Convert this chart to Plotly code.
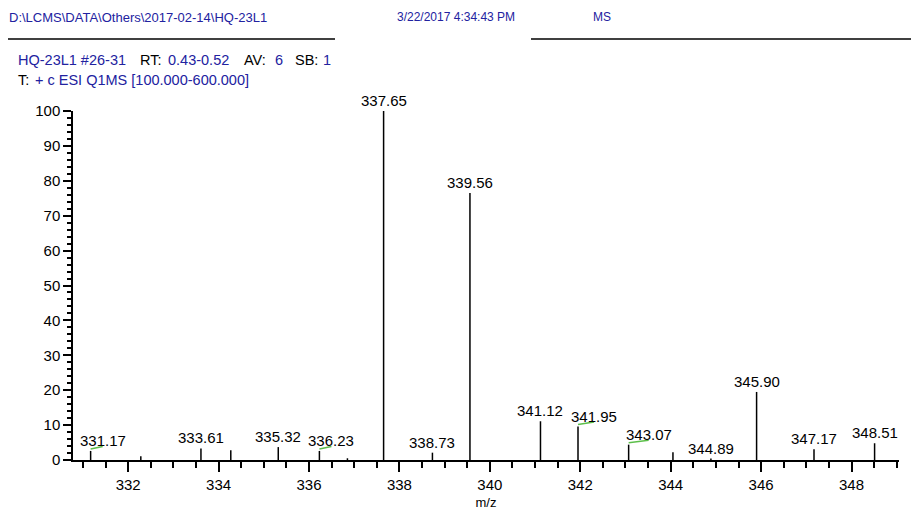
import plotly.graph_objects as go

# ---- data ----
mz = [331.17, 332.28, 333.61, 334.27, 335.32, 336.23, 336.85, 337.65, 338.73,
      339.56, 341.12, 341.95, 343.07, 344.05, 344.89, 345.90, 347.17, 348.51]
intensity = [2.6, 1.1, 3.3, 2.8, 3.7, 2.6, 0.5, 100, 2.1,
             76.5, 11.1, 9.6, 4.4, 2.2, 0.4, 19.5, 3.1, 4.8]
labeled_mz = [331.17, 333.61, 335.32, 336.23, 337.65, 338.73, 339.56, 341.12,
              341.95, 343.07, 344.89, 345.90, 347.17, 348.51]
# labels moved sideways (with a green leader line) by the instrument software
shifted_mz = [331.17, 336.23, 341.95, 343.07]

header_path = "D:\\LCMS\\DATA\\Others\\2017-02-14\\HQ-23L1"
header_date = "3/22/2017 4:34:43 PM"
header_type = "MS"
x_title = "m/z"

# ---- layout constants ----
W, H = 919, 510
OFF = 8  # page body margin
ML, MT = 73 - OFF, 111 - OFF
MR = W - (899 - OFF)
MB = H - (460 - OFF)
PW, PH = W - ML - MR, H - MT - MB
XR = [330.78, 349.05]
YR = [0, 100]
PXU = PW / (XR[1] - XR[0])   # pixels per m/z unit
PYU = PH / (YR[1] - YR[0])   # pixels per % unit
BLUE = "#2222a0"
GREEN = "#5cbf4a"
FONT = "Arial, Liberation Sans, sans-serif"
shift_px = {331.17: 12, 336.23: 12, 341.95: 16, 343.07: 20}

def px(x):
    return (x - OFF - ML) / PW

def py(y):
    return (H - MB - (y - OFF)) / PH

fig = go.Figure()

# sticks
xs, ys = [], []
for m, h in zip(mz, intensity):
    xs += [m, m, None]
    ys += [0, h, None]
fig.add_trace(go.Scatter(x=xs, y=ys, mode="lines",
                         line=dict(color="black", width=1.5),
                         hoverinfo="skip", showlegend=False, cliponaxis=False))

# green leader lines
gx, gy = [], []
for m in shifted_mz:
    h = intensity[mz.index(m)]
    gx += [m, m + shift_px[m] / PXU, None]
    gy += [h + 2 / PYU, h + 4.5 / PYU, None]
fig.add_trace(go.Scatter(x=gx, y=gy, mode="lines",
                         line=dict(color=GREEN, width=1.5),
                         hoverinfo="skip", showlegend=False, cliponaxis=False))

annotations = []
for m in labeled_mz:
    h = intensity[mz.index(m)]
    annotations.append(dict(x=m, y=h, xref="x", yref="y", text=f"{m:.2f}",
                            showarrow=False, xanchor="center", yanchor="bottom",
                            xshift=shift_px.get(m, 0), yshift=0,
                            font=dict(family=FONT, size=15, color="black")))

def txt(t, x, y, color, size):
    annotations.append(dict(x=px(x), y=py(y), xref="paper", yref="paper", text=t,
                            showarrow=False, xanchor="left", yanchor="middle",
                            font=dict(family=FONT, size=size, color=color)))

# header
txt(header_path, 7, 17, BLUE, 13)
txt(header_date, 395, 17, BLUE, 12)
txt(header_type, 591, 17, BLUE, 12)
# scan info line 1
txt("HQ-23L1 #26-31", 16, 60, BLUE, 14.5)
txt("RT:", 138, 60, "black", 14.5)
txt("0.43-0.52", 166, 60, BLUE, 14.5)
txt("AV:", 242, 60, "black", 14.5)
txt("6", 273, 60, BLUE, 14.5)
txt("SB:", 293, 60, "black", 14.5)
txt("1", 321, 60, BLUE, 14.5)
# scan info line 2
txt("T:", 16, 80, "black", 14.5)
txt("+ c ESI Q1MS [100.000-600.000]", 33, 80, BLUE, 14.5)

shapes = [
    dict(type="line", xref="paper", yref="paper", x0=px(8), x1=px(335),
         y0=py(39), y1=py(39), line=dict(color="black", width=1.5)),
    dict(type="line", xref="paper", yref="paper", x0=px(531), x1=px(930),
         y0=py(39), y1=py(39), line=dict(color="black", width=1.5)),
]

fig.update_layout(
    width=W, height=H,
    margin=dict(l=ML, r=MR, t=MT, b=MB, pad=0, autoexpand=False),
    paper_bgcolor="white", plot_bgcolor="white",
    font=dict(family=FONT, size=15, color="black"),
    annotations=annotations, shapes=shapes, showlegend=False,
    xaxis=dict(range=XR, showgrid=False, zeroline=False, showline=True,
               automargin=False,
               linecolor="black", linewidth=1.5, ticks="outside", ticklen=10,
               tickwidth=1.5, tickcolor="black", tick0=332, dtick=2,
               tickformat="d",
               minor=dict(ticks="outside", ticklen=6, tickwidth=1.5,
                          tickcolor="black", dtick=0.5, tick0=331, showgrid=False),
               title=dict(text=x_title, font=dict(size=13), standoff=6),
               tickfont=dict(size=15)),
    yaxis=dict(range=YR, showgrid=False, zeroline=False, showline=True,
               automargin=False,
               linecolor="black", linewidth=1.5, ticks="outside", ticklen=8,
               tickwidth=1.5, tickcolor="black", tick0=0, dtick=10,
               minor=dict(ticks="outside", ticklen=4, tickwidth=1.5,
                          tickcolor="black", dtick=2, showgrid=False),
               tickfont=dict(size=15)),
)

fig.write_html("out.html")
